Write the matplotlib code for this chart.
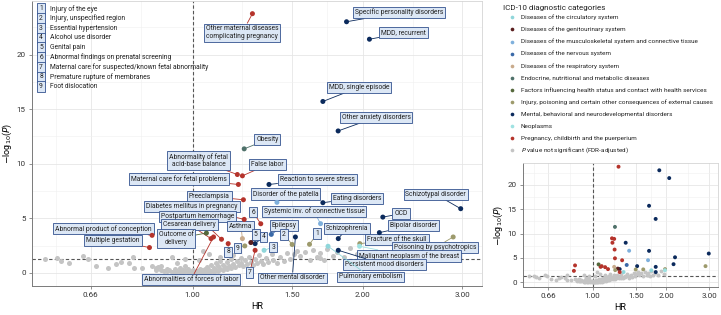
import matplotlib
matplotlib.use("Agg")
import matplotlib.pyplot as plt
from matplotlib.ticker import FixedLocator, NullFormatter

plt.rcParams['font.family'] = ['Roboto', 'DejaVu Sans']

# ICD-10 categories and colours
categories = [
    "Diseases of the circulatory system",
    "Diseases of the genitourinary system",
    "Diseases of the musculoskeletal system and connective tissue",
    "Diseases of the nervous system",
    "Diseases of the respiratory system",
    "Endocrine, nutritional and metabolic diseases",
    "Factors influencing health status and contact with health services",
    "Injury, poisoning and certain other consequences of external causes",
    "Mental, behavioral and neurodevelopmental disorders",
    "Neoplasms",
    "Pregnancy, childbirth and the puerperium",
]
cat_colors = ["#8fd6da", "#5a1e1e", "#7fb0dc", "#3a69a8", "#c9ab8c", "#4f716a",
              "#55683c", "#9d9a6c", "#0b2a5c", "#9fe2e2", "#b5332b"]
ns_label = "$P$ value not significant (FDR-adjusted)"
ns_color = "#c4c4c4"

# significant diagnoses: box text, HR, -log10(P), category index
sig_text = [
    "Other maternal diseases\ncomplicating pregnancy", "Specific personality disorders",
    "MDD, recurrent", "MDD, single episode", "Other anxiety disorders", "Obesity",
    "Abnormality of fetal\nacid-base balance", "False labor", "Maternal care for fetal problems",
    "Reaction to severe stress", "Preeclampsia", "Disorder of the patella", "Eating disorders",
    "Schizotypal disorder", "Diabetes mellitus in pregnancy", "Systemic inv. of connective tissue",
    "OCD", "Postpartum hemorrhage", "Cesarean delivery", "Asthma", "Epilepsy", "Schizophrenia",
    "Bipolar disorder", "Abnormal product of conception", "Outcome of\ndelivery",
    "Multiple gestation", "Fracture of the skull", "Poisoning by psychotropics",
    "Malignant neoplasm of the breast", "Persistent mood disorders", "Pulmonary embolism",
    "Other mental disorder", "Abnormalities of forces of labor",
    "1", "2", "3", "4", "5", "6", "7", "8", "9",
]
sig_hr = [1.276, 1.872, 2.055, 1.70, 1.809, 1.234, 1.20, 1.225, 1.205, 1.365, 1.23, 1.41, 1.70,
          2.98, 1.234, 1.684, 2.17, 1.125, 1.078, 1.225, 1.378, 1.81, 2.14, 0.848, 1.058,
          0.839, 1.976, 2.89, 1.974, 1.81, 1.736, 1.52, 1.089,
          1.61, 1.50, 1.338, 1.29, 1.268, 1.32, 1.29, 1.156, 1.237]
sig_p = [23.74, 23.0, 21.4, 15.7, 13.0, 11.36, 9.01, 8.89, 8.1, 8.1, 6.7, 6.46, 6.43,
         5.88, 4.9, 4.51, 5.11, 3.08, 3.14, 3.14, 3.53, 3.14, 3.69, 3.44, 3.65,
         2.32, 2.68, 3.29, 2.44, 2.07, 2.44, 3.29, 3.29,
         2.62, 2.6, 2.07, 2.68, 2.78, 4.5, 2.07, 2.68, 2.47]
sig_cat = [10, 8, 8, 8, 8, 5, 10, 10, 10, 8, 10, 2, 8,
           8, 10, 2, 8, 10, 10, 4, 3, 8, 8, 10, 6,
           10, 7, 7, 9, 8, 0, 8, 10,
           7, 7, 0, 8, 1, 10, 10, 10, 7]

# key for the numbered boxes
number_names = [
    "Injury of the eye", "Injury, unspecified region", "Essential hypertension",
    "Alcohol use disorder", "Genital pain", "Abnormal findings on prenatal screening",
    "Maternal care for suspected/known fetal abnormality", "Premature rupture of membranes",
    "Foot dislocation",
]

# non-significant diagnoses
ns_hr = [0.548, 0.575, 0.586, 0.604, 0.639, 0.652, 0.674, 0.708, 0.731, 0.746, 0.771, 0.783,
         0.787, 0.815, 0.846, 0.863, 0.88, 0.921, 0.94, 0.86, 0.87, 0.88, 0.89, 0.90, 0.90,
         0.91, 0.92, 0.93, 0.93, 0.94, 0.95, 0.95, 0.96, 0.96, 0.97, 0.97, 0.98, 0.98, 0.99,
         0.99, 1.00, 1.00, 1.01, 1.01, 1.02, 1.02, 1.03, 1.03, 1.04, 1.04, 1.05, 1.05, 1.06,
         1.06, 1.07, 1.07, 1.08, 1.08, 1.09, 1.09, 1.10, 1.10, 1.11, 1.11, 1.12, 1.12, 1.13,
         1.13, 1.14, 1.15, 1.15, 1.16, 1.17, 1.17, 1.18, 1.19, 1.20, 1.21, 1.22, 1.22, 1.23,
         1.24, 1.25, 1.26, 1.27, 1.28, 1.29, 1.30, 1.31, 1.32, 1.33, 1.35, 1.36, 1.38, 1.39,
         1.41, 1.43, 1.45, 1.47, 1.49, 1.51, 1.53, 1.55, 1.58, 1.61, 1.63, 1.66, 1.68, 1.68,
         1.71, 1.73, 1.77, 1.80, 1.85, 1.90, 1.95, 1.027, 1.044, 1.07, 1.12, 1.18, 0.97]
ns_p = [1.25, 1.34, 1.07, 0.89, 1.53, 1.25, 0.61, 0.43, 0.79, 0.98, 0.89, 1.43,
        0.43, 0.43, 0.61, 0.43, 0.61, 1.43, 0.89, 0.25, 0.5, 0.3, 0.2, 0.4, 0.15,
        0.28, 0.1, 0.35, 0.05, 0.2, 0.45, 0.12, 0.3, 0.05, 0.18, 0.6, 0.08, 0.32, 0.02,
        0.15, 0.05, 0.25, 0.1, 0.0, 0.2, 0.05, 0.12, 0.35, 0.02, 0.22, 0.08, 0.4, 0.15,
        0.55, 0.05, 0.3, 0.2, 0.7, 0.1, 0.45, 0.3, 0.9, 0.15, 0.6, 0.4, 1.1, 0.25,
        0.75, 0.5, 0.35, 1.0, 0.6, 0.45, 1.25, 0.8, 0.55, 1.05, 0.7, 1.4, 0.9, 0.6,
        1.15, 0.85, 1.5, 1.0, 0.75, 1.3, 0.9, 1.6, 1.1, 0.8, 1.35, 1.0, 1.7, 1.2,
        0.9, 1.5, 1.1, 1.8, 1.3, 1.77, 2.0, 1.52, 1.9, 1.16, 2.1, 1.5, 1.83, 1.37,
        1.22, 2.2, 1.52, 1.9, 1.5, 2.3, 1.7, 1.16, 2.0, 1.77, 1.45, 1.6, 1.3]

x_ticks = [0.66, 1.0, 1.5, 2.0, 3.0]
x_minor = [0.574, 0.812, 1.225, 1.732, 2.449]

# where the label boxes sit (data coordinates of the main panel)
label_x = [1.224, 2.315, 2.362, 1.968, 2.111, 1.356, 1.025, 1.356, 0.947, 1.661, 1.07, 1.461,
           1.954, 2.693, 0.998, 1.639, 2.336, 1.02, 0.987, 1.217, 1.451, 1.876, 2.46, 0.696,
           0.935, 0.723, 2.299, 2.686, 2.41, 2.184, 2.063, 1.501, 0.994,
           1.661, 1.451, 1.388, 1.334, 1.294, 1.279, 1.262, 1.156, 1.20]
label_y = [22.0, 23.84, 21.98, 16.99, 14.25, 12.21, 10.29, 9.9, 8.62, 8.58, 7.0, 7.25,
           6.85, 7.19, 6.06, 5.63, 5.42, 5.18, 4.42, 4.29, 4.36, 4.08, 4.36, 4.05,
           3.14, 2.99, 3.05, 2.32, 1.55, 0.77, -0.37, -0.46, -0.6,
           3.6, 3.51, 2.37, 3.29, 3.53, 5.57, 0.04, 1.92, 2.28]

W, H = 721, 315
fig = plt.figure(figsize=(W / 100, H / 100), dpi=100)
ax = fig.add_axes([32 / W, 29 / H, 450 / W, 285 / H])
ins = fig.add_axes([523 / W, 28 / H, 195 / W, 124 / H])


def style_axes(a, yt, ylim, fs):
    a.set_xscale('log')
    a.set_xlim(0.52, 3.25)
    a.set_ylim(*ylim)
    a.xaxis.set_major_locator(FixedLocator(x_ticks))
    a.xaxis.set_minor_locator(FixedLocator(x_minor))
    a.xaxis.set_minor_formatter(NullFormatter())
    a.set_xticklabels(["%.2f" % v for v in x_ticks])
    a.yaxis.set_major_locator(FixedLocator(yt))
    a.yaxis.set_minor_locator(FixedLocator([v + 2.5 for v in yt]))
    a.grid(which='major', color='#e6e6e6', lw=0.6)
    a.grid(which='minor', color='#f0f0f0', lw=0.4)
    a.set_axisbelow(True)
    a.tick_params(which='major', labelsize=fs, length=2.5, width=0.5, color='#666666',
                  labelcolor='#333333', pad=2)
    a.tick_params(which='minor', length=0)
    for s in ['top', 'right']:
        a.spines[s].set_color('#d4d4d4')
        a.spines[s].set_linewidth(0.6)
    for s in ['left', 'bottom']:
        a.spines[s].set_color('#7a7a7a')
        a.spines[s].set_linewidth(0.7)
    a.axvline(1.0, color='#555555', lw=0.8, ls=(0, (3, 2)), zorder=1)
    a.axhline(1.3, color='#555555', lw=0.8, ls=(0, (3, 2)), zorder=1)
    a.set_xlabel("HR", fontsize=6.5, labelpad=3)
    a.set_ylabel(r"$-$log$_{10}$($P$)", fontsize=6.5, labelpad=2)


style_axes(ax, [0, 5, 10, 15, 20], (-1.2, 24.9), 5.8)
style_axes(ins, [0, 5, 10, 15, 20], (-1.0, 24.5), 5.8)

sig_colors = [cat_colors[c] for c in sig_cat]
for a, s in [(ax, 13), (ins, 8)]:
    a.scatter(ns_hr, ns_p, s=s, color=ns_color, lw=0, zorder=2)
    a.scatter(sig_hr, sig_p, s=s, color=sig_colors, lw=0, zorder=5)

box = dict(boxstyle='square,pad=0.28', fc='#dce7f5', ec='#33528f', lw=0.6)
for i, t in enumerate(sig_text):
    ax.annotate(t, xy=(sig_hr[i], sig_p[i]), xytext=(label_x[i], label_y[i]),
                ha='center', va='center', fontsize=4.9, color='#222222',
                linespacing=1.1, bbox=box, zorder=4,
                arrowprops=dict(arrowstyle='-', color=sig_colors[i], lw=0.6,
                                shrinkA=0, shrinkB=1.5))

# overlay in pixel space for the two keys
lay = fig.add_axes([0, 0, 1, 1])
lay.set_xlim(0, W)
lay.set_ylim(H, 0)
lay.axis('off')

for i, name in enumerate(number_names):
    yy = 8.7 + 9.75 * i
    lay.text(41, yy, str(i + 1), ha='center', va='center', fontsize=4.9, color='#222222',
             bbox=box)
    lay.text(50.5, yy, name, ha='left', va='center', fontsize=4.9, color='#222222')

lay.text(503, 8, "ICD-10 diagnostic categories", ha='left', va='center', fontsize=5.8,
         color='#222222')
for i, (name, c) in enumerate(zip(categories + [ns_label], cat_colors + [ns_color])):
    yy = 17.3 + 12.1 * i
    lay.scatter([511.7], [yy], s=7, color=c, lw=0)
    lay.text(520.7, yy, name, ha='left', va='center', fontsize=4.6, color='#222222')

fig.savefig("out.png", dpi=100)
